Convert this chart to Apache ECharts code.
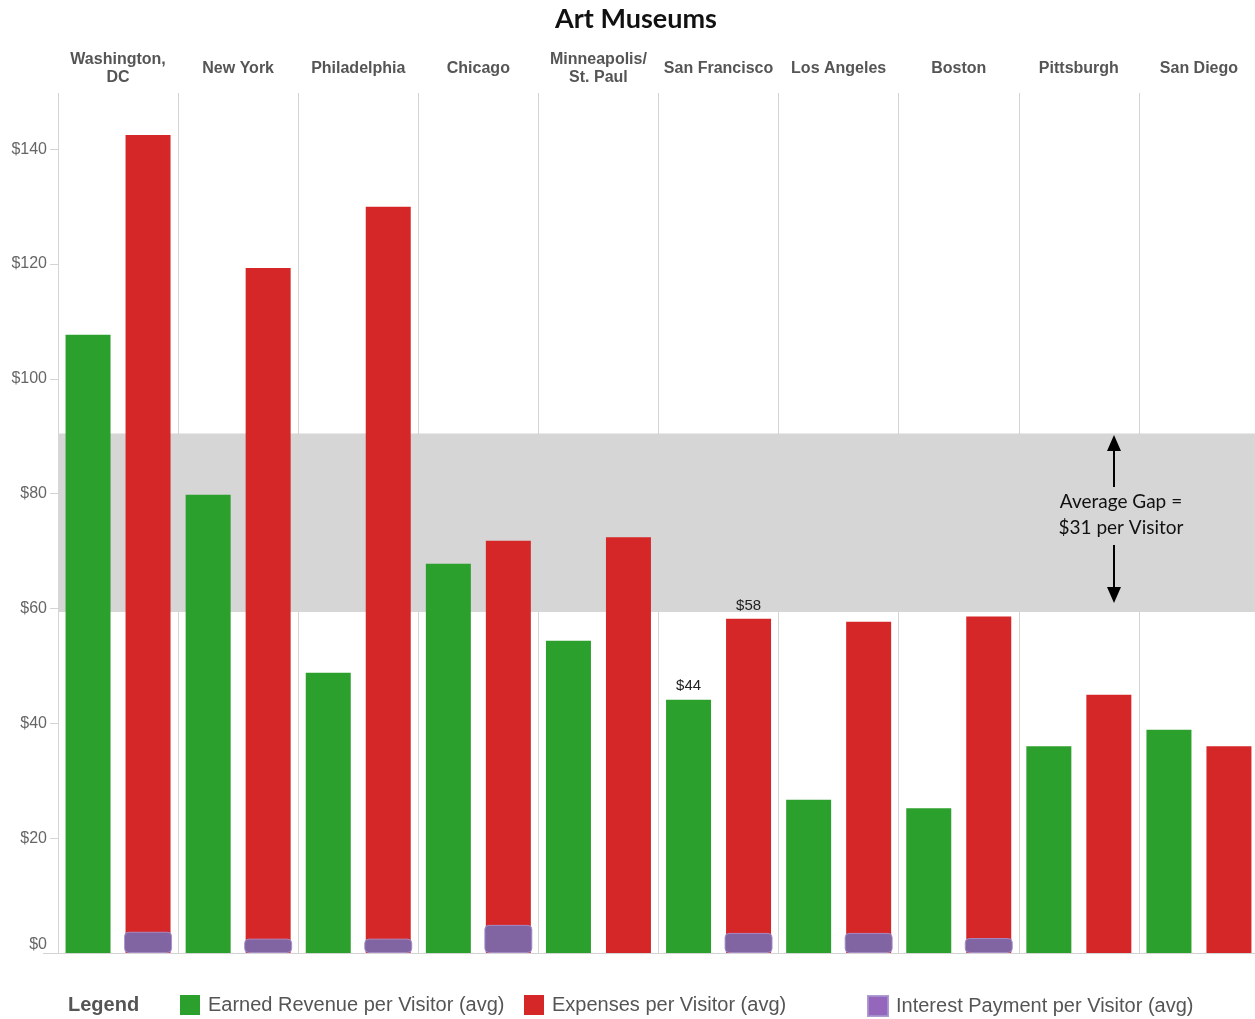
<!DOCTYPE html>
<html><head><meta charset="utf-8">
<script src="https://cdn.jsdelivr.net/npm/echarts@6/dist/echarts.min.js"></script>
<style>html,body{margin:0;padding:0;background:#fff;overflow:hidden}#c{width:1259px;height:1019px}</style>
</head><body><div id="c"></div>
<script>
const cities = ['Washington,\nDC','New York','Philadelphia','Chicago','Minneapolis/\nSt. Paul','San Francisco','Los Angeles','Boston','Pittsburgh','San Diego'];
const earnedRevenue = [107.7, 79.8, 48.8, 67.8, 54.4, 44.1, 26.7, 25.2, 36.0, 38.9];
const expenses      = [142.5, 119.3, 130.0, 71.8, 72.4, 58.2, 57.7, 58.6, 45.0, 36.0];
const interest      = [3.7, 2.5, 2.5, 4.9, null, 3.5, 3.5, 2.6, null, null];
const yTicks = [0, 20, 40, 60, 80, 100, 120, 140];
const gapBand = [59.4, 90.5];
const labeledCity = 'San Francisco';
const seriesNames = ['Earned Revenue per Visitor (avg)', 'Expenses per Visitor (avg)', 'Interest Payment per Visitor (avg)'];

const FONT = '"Liberation Sans", Arial, sans-serif';
const GREEN = '#2ca02c', RED = '#d62728', PURPLE = '#8165a2', PURPLE_LEG = '#9467bd';
const LINE = '#d4d4d4';

function withLabel(arr) {
  return arr.map((v, i) => cities[i] === labeledCity ? {
    value: v,
    label: { show: true, position: 'top', distance: 6, formatter: p => '$' + Math.round(p.value),
             fontSize: 15, color: '#222', fontFamily: FONT }
  } : v);
}

const chart = echarts.init(document.getElementById('c'), null, { renderer: 'canvas' });
const legendBase = {
  top: 995, padding: 0, itemWidth: 20, itemHeight: 20, icon: 'rect', selectedMode: false,
  textStyle: { fontSize: 20, color: '#555', fontFamily: FONT, padding: [0, 0, 0, 3] }
};
chart.setOption({
  animation: false,
  title: {
    text: 'Art Museums', left: 555, top: 0, padding: [6, 0, 0, 0],
    textStyle: { fontFamily: 'Lato, "Open Sans", sans-serif', fontWeight: 'bold', fontSize: 27, color: '#111' }
  },
  legend: [
    Object.assign({}, legendBase, { left: 180, data: [{ name: seriesNames[0] }] }),
    Object.assign({}, legendBase, { left: 524, data: [{ name: seriesNames[1] }] }),
    Object.assign({}, legendBase, { left: 867, data: [{ name: seriesNames[2], itemStyle: { color: PURPLE_LEG } }] })
  ],
  grid: { left: 58, top: 93, right: 0, height: 860, containLabel: false },
  xAxis: [
    {
      type: 'category', data: cities, position: 'top',
      axisLine: { show: true, lineStyle: { color: LINE, width: 1 } },
      axisTick: { show: true, interval: 0, length: 50, inside: false, alignWithLabel: false, lineStyle: { color: LINE } },
      axisLabel: { interval: 0, margin: 24, verticalAlign: 'middle', fontFamily: FONT, fontWeight: 'bold',
                   fontSize: 16, lineHeight: 18, color: '#555' },
      splitLine: { show: true, interval: 0, lineStyle: { color: LINE, width: 1 } }
    },
    {
      type: 'category', data: cities, position: 'bottom',
      axisLine: { show: true, lineStyle: { color: LINE, width: 1 } },
      axisTick: { show: false }, axisLabel: { show: false }, splitLine: { show: false }
    }
  ],
  yAxis: {
    type: 'value', min: 0, max: 149.8,
    axisLine: { show: false },
    axisTick: { show: true, length: 8, lineStyle: { color: LINE }, customValues: yTicks },
    axisLabel: {
      customValues: yTicks, margin: 11, fontSize: 16, color: '#666', fontFamily: FONT,
      formatter: v => v === 0 ? '{z|$0}' : '$' + v,
      rich: { z: { fontSize: 16, color: '#666', fontFamily: FONT, padding: [0, 0, 16, 0] } }
    },
    splitLine: { show: false }
  },
  series: [
    {
      name: '_band', type: 'bar', xAxisIndex: 1, barWidth: 48, z: 1, silent: true,
      data: cities.map(() => null), itemStyle: { color: 'transparent' },
      markArea: { silent: true, itemStyle: { color: '#d6d6d6' }, data: [[{ yAxis: gapBand[0] }, { yAxis: gapBand[1] }]] }
    },
    {
      name: seriesNames[0], type: 'bar', xAxisIndex: 0, barWidth: 45, z: 2,
      itemStyle: { color: GREEN }, data: withLabel(earnedRevenue)
    },
    {
      name: seriesNames[1], type: 'bar', xAxisIndex: 0, barWidth: 45, barGap: '33.33%', z: 2,
      itemStyle: { color: RED }, data: withLabel(expenses)
    },
    {
      name: seriesNames[2], type: 'bar', xAxisIndex: 1, barWidth: 48, barGap: '25%', z: 3,
      itemStyle: { color: PURPLE, borderRadius: 4, borderColor: 'rgba(165,145,205,0.9)', borderWidth: 1 },
      data: interest
    }
  ],
  graphic: [
    { type: 'text', left: 68, top: 995, style: { text: 'Legend', font: 'bold 20px ' + FONT, fill: '#555' } },
    { type: 'line', shape: { x1: 43, y1: 953.5, x2: 58, y2: 953.5 }, style: { stroke: LINE, lineWidth: 1 } },
    { type: 'line', shape: { x1: 1114, y1: 487, x2: 1114, y2: 448 }, style: { stroke: '#000', lineWidth: 2 }, z: 100 },
    { type: 'polygon', shape: { points: [[1114, 435], [1107, 451], [1121, 451]] }, style: { fill: '#000' }, z: 100 },
    { type: 'line', shape: { x1: 1114, y1: 545, x2: 1114, y2: 590 }, style: { stroke: '#000', lineWidth: 2 }, z: 100 },
    { type: 'polygon', shape: { points: [[1114, 603], [1107, 587], [1121, 587]] }, style: { fill: '#000' }, z: 100 },
    { type: 'text', x: 1121, y: 515, z: 100,
      style: { text: 'Average Gap =\n$31 per Visitor', align: 'center', verticalAlign: 'middle',
               lineHeight: 26, font: '19px Lato, "Open Sans", sans-serif', fill: '#111' } }
  ]
});
</script>
</body></html>
